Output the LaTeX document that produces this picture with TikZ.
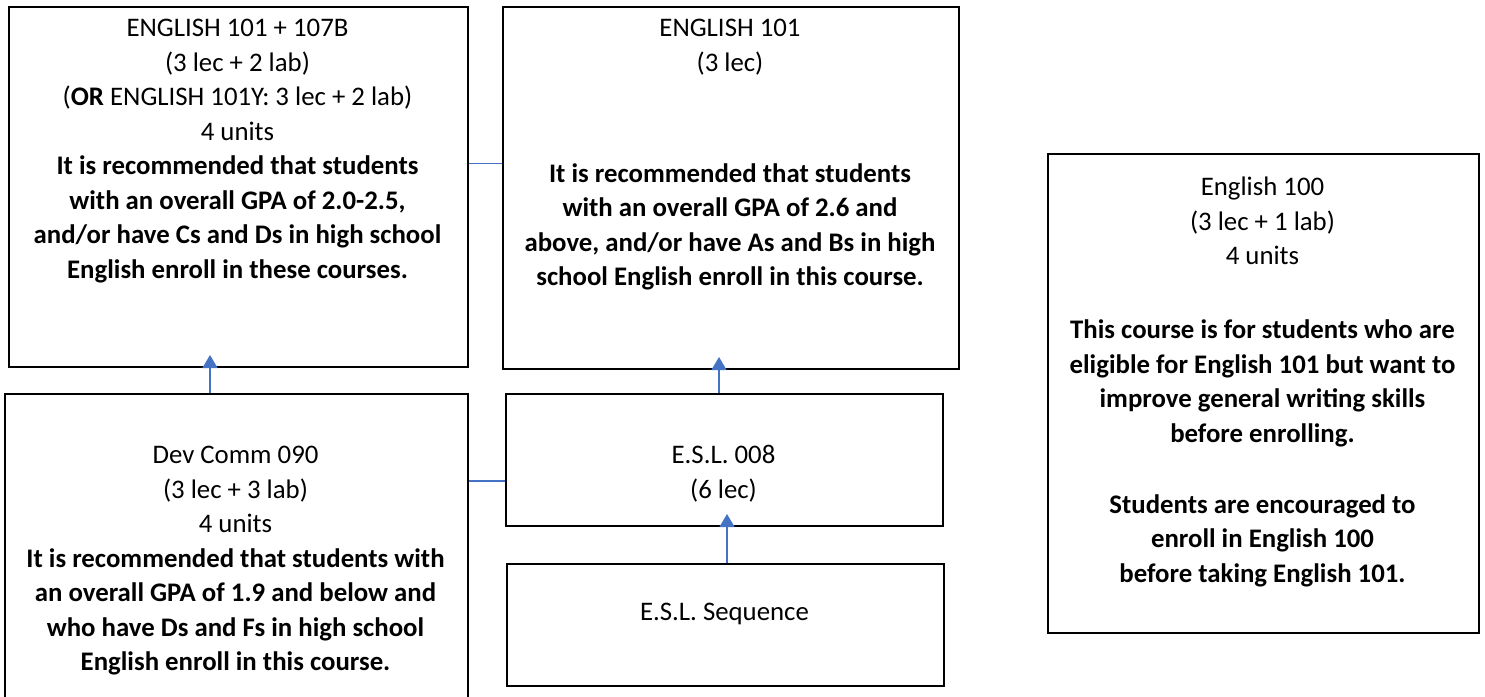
\documentclass[tikz,border=0pt]{standalone}
\usepackage{fontspec}
\setmainfont{Carlito}
\usetikzlibrary{arrows.meta}
\definecolor{connblue}{HTML}{4472C4}
\tikzset{
  box/.style={draw=black, line width=2pt, rectangle, anchor=north west, inner sep=0pt},
  txt/.style={anchor=north, inner sep=0pt, align=center, font=\fontsize{26.8}{34.5}\selectfont},
  conn/.style={draw=connblue, line width=1.3pt},
  arr/.style={conn, -{Triangle[length=13pt,width=15pt]}, shorten >=-13pt}
}
\newcommand{\fl}{\rule{0pt}{26pt}}
\begin{document}
\begin{tikzpicture}[x=1pt,y=-1pt]
\useasboundingbox (0,0) rectangle (1485,696);
% boxes
\node[box, minimum width=459pt, minimum height=360pt] (A) at (8,6) {};
\node[box, minimum width=456pt, minimum height=362pt] (B) at (502,6) {};
\node[box, minimum width=463pt, minimum height=305pt] (C) at (4,393) {};
\node[box, minimum width=437pt, minimum height=132pt] (D) at (505,393) {};
\node[box, minimum width=437pt, minimum height=122pt] (E) at (506,563) {};
\node[box, minimum width=431pt, minimum height=479pt] (F) at (1047,153) {};
% texts
\node[txt] (At) at (237.5,10.6) {\fl ENGLISH 101 + 107B\\(3 lec + 2 lab)\\(\textbf{OR} ENGLISH 101Y: 3 lec + 2 lab)\\4 units\\
\textbf{It is recommended that students}\\\textbf{with an overall GPA of 2.0-2.5,}\\\textbf{and/or have Cs and Ds in high school}\\\textbf{English enroll in these courses.}};
\node[txt] (Bt) at (730,10.6) {\fl ENGLISH 101\\(3 lec)\\[76.5pt]
\textbf{It is recommended that students}\\\textbf{with an overall GPA of 2.6 and}\\\textbf{above, and/or have As and Bs in high}\\\textbf{school English enroll in this course.}};
\node[txt] (Ct) at (235.5,437.6) {\fl Dev Comm 090\\(3 lec + 3 lab)\\4 units\\
\textbf{It is recommended that students with}\\\textbf{an overall GPA of 1.9 and below and}\\\textbf{who have Ds and Fs in high school}\\\textbf{English enroll in this course.}};
\node[txt] (Dt) at (723.5,437.6) {\fl E.S.L. 008\\(6 lec)};
\node[txt] (Et) at (724.5,594.6) {\fl E.S.L. Sequence};
\node[txt] (Ft) at (1262.5,169.6) {\fl English 100\\(3 lec + 1 lab)\\4 units\\[39.5pt]
\textbf{This course is for students who are}\\\textbf{eligible for English 101 but want to}\\\textbf{improve general writing skills}\\\textbf{before enrolling.}\\[36.5pt]
\textbf{Students are encouraged to}\\\textbf{enroll in English 100}\\\textbf{before taking English 101.}};
% connectors
\draw[conn] ([yshift=23.5pt]A.east) -- ([yshift=23.5pt]A.east -| B.west);
\draw[conn] ([yshift=-21pt]D.west -| C.east) -- ([yshift=-21pt]D.west);
\draw[arr] ([xshift=-26.5pt]C.north) -- ([xshift=-26.5pt]C.north |- A.south);
\draw[arr] ([xshift=-5.5pt]D.north) -- ([xshift=-5.5pt]D.north |- B.south);
\draw[arr] ([xshift=1.5pt]E.north) -- ([xshift=1.5pt]E.north |- D.south);
\end{tikzpicture}
\end{document}
